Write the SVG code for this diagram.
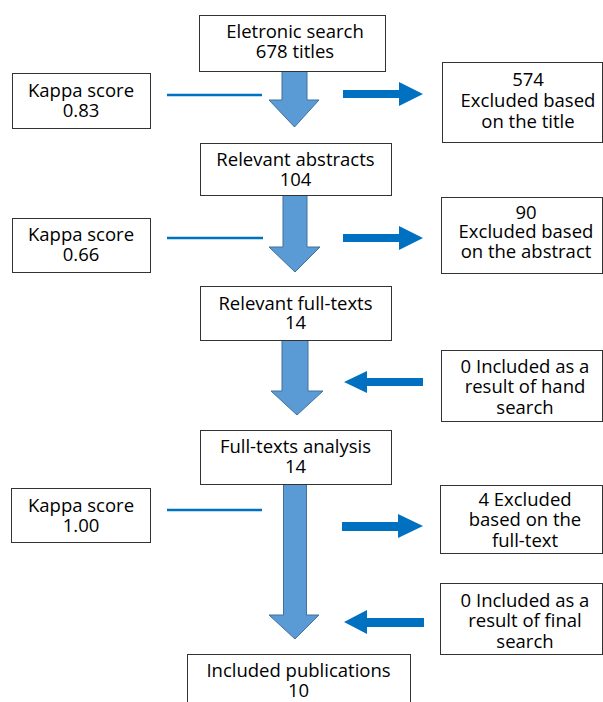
<svg xmlns="http://www.w3.org/2000/svg" width="603" height="702" viewBox="0 0 603 702">
<style>
.box{fill:#fff;stroke:#333;stroke-width:1}
.t{font-family:"Open Sans","Noto Sans",sans-serif;font-size:18.5px;fill:#000;text-anchor:middle}
.down{fill:#5B9BD5;stroke:#41719C;stroke-width:1}
.side{fill:#0070C0}
.kl{stroke:#0070C0;stroke-width:2.5;fill:none}
</style>
<rect width="603" height="702" fill="#fff"/>
<g id="connectors">
<path class="down" d="M282,71 H307 V100 H319 L294.5,127 L269,100 H282 Z"/>
<path class="down" d="M283,195 H307 V247 H320 L295,272 L269,247 H283 Z"/>
<path class="down" d="M282,340 H308 V391 H323 L297,415 L271,391 H282 Z"/>
<path class="down" d="M283.5,484 H306.5 V615 H319 L295,639 L269,615 H283.5 Z"/>
<line class="kl" x1="167" y1="95" x2="262" y2="95"/>
<line class="kl" x1="167" y1="238" x2="263" y2="238"/>
<line class="kl" x1="167" y1="510" x2="262" y2="510"/>
<path class="side" d="M343,90 H399 V82 L423,94 L399,106 V98 H343 Z"/>
<path class="side" d="M343,234 H399 V226 L423,238 L399,250 V242 H343 Z"/>
<path class="side" d="M423,378 H367 V371 L344,382 L367,393 V386 H423 Z"/>
<path class="side" d="M342,522 H398 V514 L423,526 L398,538 V531 H342 Z"/>
<path class="side" d="M424,618 H367 V610 L344,622 L367,634 V627 H424 Z"/>
</g>
<g id="n1"><rect class="box" x="199.5" y="15.5" width="186" height="56"/><text class="t" x="295" y="38">Eletronic search</text><text class="t" x="295" y="58">678 titles</text></g>
<g id="k1"><rect class="box" x="12.5" y="73.5" width="138" height="55"/><text class="t" x="81" y="97">Kappa score</text><text class="t" x="81" y="117">0.83</text></g>
<g id="e1"><rect class="box" x="442.5" y="62.5" width="160" height="80"/><text class="t" x="528" y="86">574</text><text class="t" x="528" y="107">Excluded based</text><text class="t" x="528" y="128">on the title</text></g>
<g id="n2"><rect class="box" x="200.5" y="143.5" width="191" height="52"/><text class="t" x="295.5" y="166">Relevant abstracts</text><text class="t" x="295.5" y="186">104</text></g>
<g id="k2"><rect class="box" x="12.5" y="218.5" width="138" height="54"/><text class="t" x="81" y="241">Kappa score</text><text class="t" x="81" y="261">0.66</text></g>
<g id="e2"><rect class="box" x="441.5" y="197.5" width="161" height="76"/><text class="t" x="526" y="219">90</text><text class="t" x="526" y="238">Excluded based</text><text class="t" x="526" y="258">on the abstract</text></g>
<g id="n3"><rect class="box" x="200.5" y="286.5" width="191" height="54"/><text class="t" x="295.5" y="310">Relevant full-texts</text><text class="t" x="295.5" y="329">14</text></g>
<g id="h1"><rect class="box" x="441.5" y="350.5" width="161" height="71"/><text class="t" x="525" y="373">0 Included as a</text><text class="t" x="525" y="393">result of hand</text><text class="t" x="525" y="414">search</text></g>
<g id="n4"><rect class="box" x="200.5" y="430.5" width="191" height="54"/><text class="t" x="295.5" y="453">Full-texts analysis</text><text class="t" x="295.5" y="473">14</text></g>
<g id="k3"><rect class="box" x="11.5" y="488.5" width="139" height="54"/><text class="t" x="81" y="512">Kappa score</text><text class="t" x="81" y="532">1.00</text></g>
<g id="e3"><rect class="box" x="440.5" y="485.5" width="162" height="68"/><text class="t" x="525" y="506">4 Excluded</text><text class="t" x="525" y="526">based on the</text><text class="t" x="525" y="547">full-text</text></g>
<g id="f1"><rect class="box" x="440.5" y="583.5" width="162" height="71"/><text class="t" x="525" y="607">0 Included as a</text><text class="t" x="525" y="627">result of final</text><text class="t" x="525" y="648">search</text></g>
<g id="n5"><rect class="box" x="187.5" y="654.5" width="223" height="60"/><text class="t" x="298.5" y="677">Included publications</text><text class="t" x="298.5" y="697">10</text></g>
</svg>
